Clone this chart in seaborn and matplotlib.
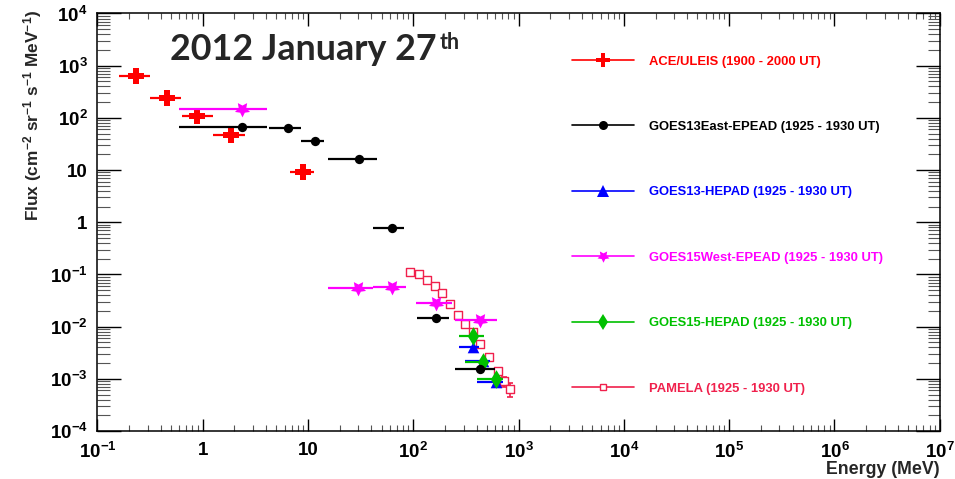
import numpy as np
import pandas as pd
import matplotlib
matplotlib.use("Agg")
import matplotlib.pyplot as plt
from matplotlib.lines import Line2D
from matplotlib.ticker import LogLocator, FuncFormatter, NullFormatter
import seaborn as sns

# ---------------- data (energy in MeV, flux in cm^-2 sr^-1 s^-1 MeV^-1) ----------------
ace_energy = [0.232, 0.463, 0.891, 1.86, 8.87]
ace_elo = [0.159, 0.318, 0.634, 1.26, 6.82]
ace_ehi = [0.313, 0.624, 1.26, 2.52, 11.35]
ace_flux = [640, 240, 107, 47, 9.4]

g13e_energy = [2.38, 6.46, 11.6, 30.7, 63.2, 164, 430]
g13e_elo = [0.596, 4.26, 8.53, 15.6, 41.7, 108, 249]
g13e_ehi = [4.10, 8.53, 14.2, 44.9, 82.2, 220, 597]
g13e_flux = [67.8, 63.2, 36.6, 16.3, 0.789, 0.0149, 0.00155]

g13h_energy = [372, 462, 606]
g13h_elo = [272, 310, 400]
g13h_ehi = [424, 535, 716]
g13h_flux = [0.0041, 0.0022, 0.00088]

g15w_energy = [2.38, 30.1, 62.4, 164, 430]
g15w_elo = [0.596, 15.4, 41.7, 106, 249]
g15w_ehi = [4.10, 41.7, 86.1, 232, 620]
g15w_flux = [150, 0.0544, 0.0569, 0.0288, 0.0134]

g15h_energy = [372, 459, 610]
g15h_elo = [272, 310, 400]
g15h_ehi = [469, 501, 716]
g15h_flux = [0.0066, 0.0021, 0.00098]

pam_energy = [93, 113, 136, 161, 189, 224, 266, 310, 369, 430, 523, 633, 727, 837]
pam_elo = [86, 105, 126, 149, 175, 207, 246, 287, 341, 398, 484, 586, 673, 775]
pam_flux = [0.113, 0.101, 0.0775, 0.0602, 0.0436, 0.0272, 0.0171, 0.0113,
            0.0078, 0.0046, 0.0026, 0.00144, 0.00091, 0.00064]
pam_ferr_lo = [0, 0, 0, 0, 0, 0, 0, 0, 0, 0, 0.0003, 0.0002, 0.00020, 0.00019]
pam_ferr_hi = [0, 0, 0, 0, 0, 0, 0, 0, 0, 0, 0.0003, 0.0002, 0.00018, 0.00018]

labels = ["ACE/ULEIS (1900 - 2000 UT)",
          "GOES13East-EPEAD (1925 - 1930 UT)",
          "GOES13-HEPAD (1925 - 1930 UT)",
          "GOES15West-EPEAD (1925 - 1930 UT)",
          "GOES15-HEPAD (1925 - 1930 UT)",
          "PAMELA (1925 - 1930 UT)"]

x_ticks = [1e-1, 1, 10, 1e2, 1e3, 1e4, 1e5, 1e6, 1e7]
y_ticks = [1e-4, 1e-3, 1e-2, 1e-1, 1, 10, 1e2, 1e3, 1e4]

# ---------------- style ----------------
sns.set_theme(style="ticks")
plt.rcParams["font.family"] = ["Liberation Sans", "DejaVu Sans"]
plt.rcParams["font.weight"] = "bold"
plt.rcParams["mathtext.fontset"] = "custom"
plt.rcParams["mathtext.rm"] = "Liberation Sans:bold"
plt.rcParams["mathtext.it"] = "Liberation Sans:bold:italic"
plt.rcParams["mathtext.bf"] = "Liberation Sans:bold"
plt.rcParams["axes.unicode_minus"] = True

RED = "#ff0000"
BLACK = "#000000"
BLUE = "#0000ff"
MAGENTA = "#ff00ff"
GREEN = "#00c000"
PINK = "#f0204c"

fig = plt.figure(figsize=(9.55, 4.79), dpi=100)
ax = fig.add_axes([0.10199, 0.10000, 0.88209, 0.87182])
ax.set_xscale("log")
ax.set_yscale("log")
ax.set_xlim(1e-1, 1e7)
ax.set_ylim(1e-4, 1e4)


def draw_series(energy, elo, ehi, flux, color, marker, size, z, lw=1.6,
                face=None, edge_lw=0, yerr=None):
    e = np.asarray(energy, float)
    f = np.asarray(flux, float)
    xerr = [e - np.asarray(elo, float), np.asarray(ehi, float) - e]
    ax.errorbar(e, f, xerr=xerr, yerr=yerr, fmt="none", ecolor=color,
                elinewidth=lw, capsize=0, zorder=z)
    df = pd.DataFrame({"energy": e, "flux": f})
    sns.scatterplot(data=df, x="energy", y="flux", ax=ax, marker=marker,
                    s=size, color=color if face is None else face,
                    edgecolor=color, linewidth=edge_lw, zorder=z + 0.5,
                    legend=False)


draw_series(ace_energy, ace_elo, ace_ehi, ace_flux, RED, "P", 140, 3)

# PAMELA: open squares, lower-side energy bars and flux bars with caps
pe = np.asarray(pam_energy, float)
pf = np.asarray(pam_flux, float)
ax.errorbar(pe, pf, xerr=[pe - np.asarray(pam_elo), np.zeros_like(pe)],
            fmt="none", ecolor=PINK, elinewidth=1.2, capsize=0, zorder=4)
ax.errorbar(pe, pf, yerr=[pam_ferr_lo, pam_ferr_hi], fmt="none", ecolor=PINK,
            elinewidth=1.2, capsize=2, capthick=1.2, zorder=4)
sns.scatterplot(data=pd.DataFrame({"energy": pe, "flux": pf}), x="energy",
                y="flux", ax=ax, marker="s", s=34, facecolor="white",
                edgecolor=PINK, linewidth=1.0, zorder=4.5, legend=False)

draw_series(g15w_energy, g15w_elo, g15w_ehi, g15w_flux, MAGENTA,
            (5, 1, 180), 130, 5)
draw_series(g13h_energy, g13h_elo, g13h_ehi, g13h_flux, BLUE, "^", 70, 6)
draw_series(g15h_energy, g15h_elo, g15h_ehi, g15h_flux, GREEN, "d", 90, 7)
draw_series(g13e_energy, g13e_elo, g13e_ehi, g13e_flux, BLACK, "o", 45, 8)

# ---------------- axes ----------------
def fmt_power(v, pos):
    n = int(round(np.log10(v)))
    if n == 0:
        return "1"
    if n == 1:
        return "10"
    return r"$10^{%d}$" % n


for axis in (ax.xaxis, ax.yaxis):
    axis.set_major_locator(LogLocator(base=10, numticks=20))
    axis.set_minor_locator(LogLocator(base=10, subs=np.arange(2, 10), numticks=20))
    axis.set_major_formatter(FuncFormatter(fmt_power))
    axis.set_minor_formatter(NullFormatter())
ax.set_xticks(x_ticks)
ax.set_yticks(y_ticks)
ax.set_xlim(1e-1, 1e7)
ax.set_ylim(1e-4, 1e4)

ax.tick_params(axis="both", which="both", direction="in", top=True, right=True,
               colors="black")
ax.tick_params(axis="x", which="major", length=9, width=1.0, pad=8, labelsize=13.5)
ax.tick_params(axis="x", which="minor", length=4, width=0.8, color="#555555")
ax.tick_params(axis="y", which="major", length=17.5, width=1.0, pad=7, labelsize=13.5)
ax.tick_params(axis="y", which="minor", length=9, width=0.8, color="#555555")
for lab in ax.get_xticklabels() + ax.get_yticklabels():
    lab.set_fontweight("bold")
for sp in ax.spines.values():
    sp.set_visible(True)
    sp.set_linewidth(1.1)
    sp.set_color("black")
ax.set_xlabel("")
ax.set_ylabel("")
ax.grid(False)

fig.text(940 / 955, 1 - 478.5 / 479, "Energy (MeV)", ha="right", va="bottom",
         fontsize=12.8, fontweight="bold")
fig.text(33 / 955, 1 - 10 / 479,
         r"Flux (cm$^{-2}$ sr$^{-1}$ s$^{-1}$ MeV$^{-1}$)",
         rotation=90, ha="center", va="top", fontsize=12.4, fontweight="bold")

title = fig.text(170 / 955, 1 - 60 / 479, "2012 January 27", ha="left",
                 va="baseline", fontsize=25.8, fontweight="bold",
                 family=["Lato", "DejaVu Sans"])
ax.annotate("th", xy=(1.0, 1.0), xycoords=title, xytext=(2, 1),
            textcoords="offset points", ha="left", va="top", fontsize=15.5,
            fontweight="bold", family=["Lato", "DejaVu Sans"])

# ---------------- legend ----------------
handles = [
    Line2D([], [], color=RED, lw=1.2, marker="P", ms=10, mew=0),
    Line2D([], [], color=BLACK, lw=1.2, marker="o", ms=6.5, mew=0),
    Line2D([], [], color=BLUE, lw=1.2, marker="^", ms=8, mew=0),
    Line2D([], [], color=MAGENTA, lw=1.2, marker=(5, 1, 180), ms=9, mew=0),
    Line2D([], [], color=GREEN, lw=1.2, marker="d", ms=8.5, mew=0),
    Line2D([], [], color=PINK, lw=1.2, marker="s", ms=5, mfc="white",
           mec=PINK, mew=1.0),
]
leg = fig.legend(handles, labels, loc="upper left",
                 bbox_to_anchor=(572 / 955, 1 - 55.5 / 479),
                 frameon=False, borderpad=0, borderaxespad=0,
                 handlelength=4.75, handletextpad=1.13, labelspacing=4.08,
                 prop={"size": 9.4, "weight": "bold"}, labelcolor="linecolor")

fig.savefig("out.png", dpi=100, facecolor="white")
